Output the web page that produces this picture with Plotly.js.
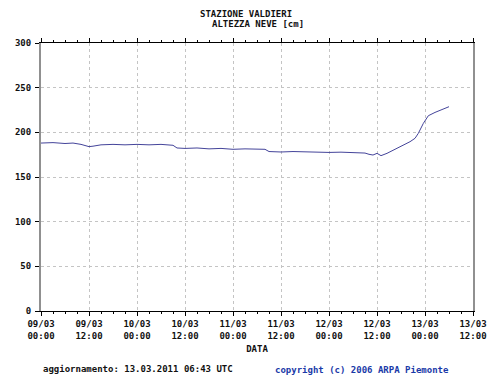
<!DOCTYPE html>
<html><head><meta charset="utf-8">
<script src="https://cdn.plot.ly/plotly-3.0.1.min.js"></script>
<style>html,body{margin:0;padding:0;background:#fff}#chart{width:500px;height:375px}</style>
</head><body><div id="chart"></div>
<script>
const times = [
 "2011-03-09 00:00","2011-03-09 03:00","2011-03-09 06:00","2011-03-09 08:00","2011-03-09 10:00",
 "2011-03-09 12:00","2011-03-09 13:00","2011-03-09 15:00","2011-03-09 18:00","2011-03-09 21:00",
 "2011-03-10 00:00","2011-03-10 03:00","2011-03-10 06:00","2011-03-10 09:00","2011-03-10 10:00",
 "2011-03-10 12:00","2011-03-10 15:00","2011-03-10 18:00","2011-03-10 21:00",
 "2011-03-11 00:00","2011-03-11 03:00","2011-03-11 06:00","2011-03-11 08:00","2011-03-11 09:00",
 "2011-03-11 12:00","2011-03-11 15:00","2011-03-11 18:00","2011-03-11 21:00",
 "2011-03-12 00:00","2011-03-12 03:00","2011-03-12 06:00","2011-03-12 09:00","2011-03-12 10:00",
 "2011-03-12 11:00","2011-03-12 12:00","2011-03-12 13:00","2011-03-12 14:30","2011-03-12 15:40",
 "2011-03-12 17:20","2011-03-12 19:00","2011-03-12 20:15","2011-03-12 21:30","2011-03-12 22:20",
 "2011-03-12 23:35","2011-03-13 00:50","2011-03-13 02:30","2011-03-13 04:10","2011-03-13 06:00"
];
const snowDepth = [
 188,188.5,187.5,188,186.5,
 184,184.5,186,186.5,186,
 186.5,186,186.5,185.5,182.5,
 182,182.5,181.5,182,
 181,181.5,181,181,178.5,
 178,178.5,178,177.5,
 177.5,177.8,177.3,176.8,175.4,
 174.6,176.5,173.9,176.5,179,
 183.2,186.5,189.5,193.3,198.9,
 210,218.6,222.3,225,228.7
];
const xTickVals = ["2011-03-09 00:00","2011-03-09 12:00","2011-03-10 00:00","2011-03-10 12:00","2011-03-11 00:00",
 "2011-03-11 12:00","2011-03-12 00:00","2011-03-12 12:00","2011-03-13 00:00","2011-03-13 12:00"];
const xTickText = ["09/03<br>00:00","09/03<br>12:00","10/03<br>00:00","10/03<br>12:00","11/03<br>00:00",
 "11/03<br>12:00","12/03<br>00:00","12/03<br>12:00","13/03<br>00:00","13/03<br>12:00"];
const yTickVals = [0,50,100,150,200,250,300];

const mono = {family:"DejaVu Sans Mono, Liberation Mono, monospace", size:9, color:"#111", weight:"bold"};

Plotly.newPlot("chart", [{
  x: times, y: snowDepth, type:"scatter", mode:"lines",
  line:{color:"#44449a", width:1}, hoverinfo:"skip"
}], {
  width:500, height:375,
  margin:{l:41, r:27, t:43, b:64},
  paper_bgcolor:"#fff", plot_bgcolor:"#fff",
  showlegend:false,
  xaxis:{
    type:"date", range:["2011-03-09 00:00","2011-03-13 12:00"],
    tickmode:"array", tickvals:xTickVals, ticktext:xTickText,
    showline:true, linecolor:"#000", linewidth:1, mirror:"ticks",
    ticks:"outside", ticklen:4, tickcolor:"#000",
    minor:{dtick:3*3600*1000, tick0:"2011-03-09 00:00", ticks:"outside", ticklen:2, tickcolor:"#000", showgrid:false},
    showgrid:true, gridcolor:"#c4c4c4", griddash:"dot", gridwidth:1,
    zeroline:false, tickfont:mono, fixedrange:true,
    title:{text:"DATA", font:mono, standoff:6}
  },
  yaxis:{
    range:[0,300], tickmode:"array", tickvals:yTickVals,
    showline:true, linecolor:"#909090", linewidth:2, mirror:true,
    ticks:"outside", ticklen:4, tickcolor:"#000",
    showgrid:true, gridcolor:"#c4c4c4", griddash:"dot", gridwidth:1,
    zeroline:false, tickfont:mono, fixedrange:true, ticklabelstandoff:2
  },
  annotations:[
    {text:"STAZIONE VALDIERI", xref:"paper", yref:"paper", x:(246-41)/432, y:(375-64-14)/268, xanchor:"center", yanchor:"middle", showarrow:false, font:mono},
    {text:"ALTEZZA NEVE [cm]", xref:"paper", yref:"paper", x:(258-41)/432, y:(375-64-24)/268, xanchor:"center", yanchor:"middle", showarrow:false, font:mono},
    {text:"aggiornamento: 13.03.2011 06:43 UTC", xref:"paper", yref:"paper", x:(41-41)/432, y:(375-64-369)/268, xanchor:"left", yanchor:"middle", showarrow:false, font:mono},
    {text:"copyright (c) 2006 ARPA Piemonte", xref:"paper", yref:"paper", x:(273-41)/432, y:(375-64-370)/268, xanchor:"left", yanchor:"middle", showarrow:false, font:Object.assign({}, mono, {color:"#1a3aa8"})}
  ]
}, {displayModeBar:false, staticPlot:true});
</script></body></html>
